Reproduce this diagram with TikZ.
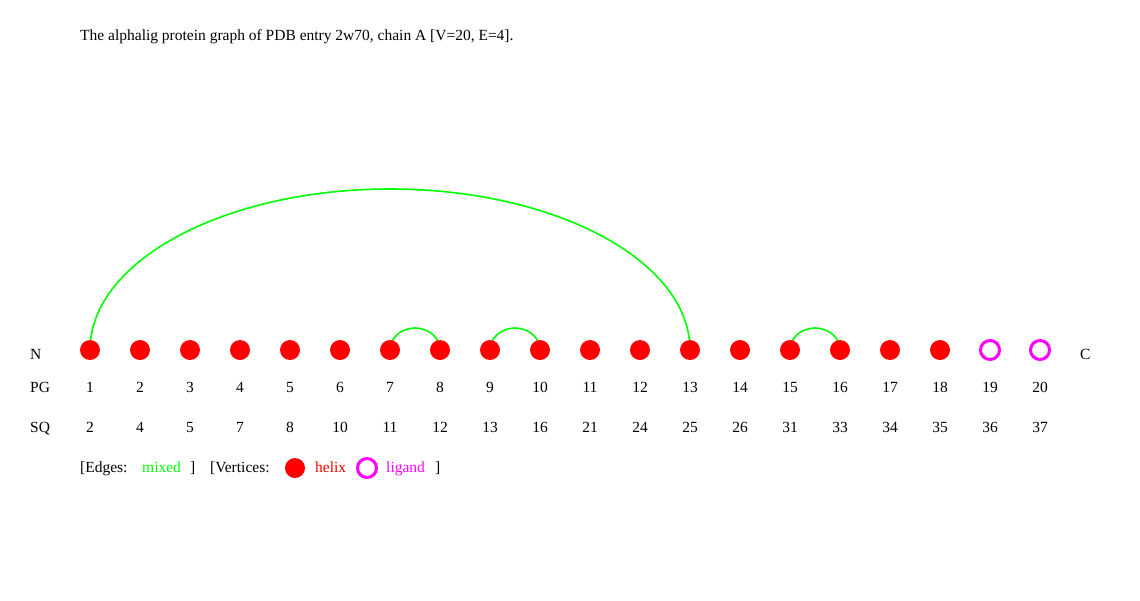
\documentclass[tikz,border=0pt]{standalone}
\usepackage{fontspec}
\setmainfont{Liberation Serif}
\definecolor{hred}{RGB}{255,0,0}
\definecolor{egreen}{RGB}{0,255,0}
\definecolor{lmag}{RGB}{255,0,255}
\begin{document}
\begin{tikzpicture}[x=1pt,y=-1pt,
  helixv/.style={circle,fill=hred,minimum size=20pt,inner sep=0pt},
  ligv/.style={circle,draw=lmag,line width=3pt,minimum size=19pt,inner sep=0pt},
  edge/.style={egreen,line width=1.6pt},
  lbl/.style={font=\fontsize{15.5}{18}\selectfont,inner sep=0pt},
  ]
\useasboundingbox (0,0) rectangle (1140,600);
\node[lbl,anchor=base west] (title) at (80,40) {The alphalig protein graph of PDB entry 2w70, chain A [V=20, E=4].};
% edges (behind vertices)
\coordinate (e1) at (90,350);
\coordinate (e13) at (690,350);
\draw[edge] (e1) arc[start angle=180,end angle=360,x radius=300,y radius=161];
\draw[edge] (390,350) arc[start angle=180,end angle=360,x radius=25,y radius=22];
\draw[edge] (490,350) arc[start angle=180,end angle=360,x radius=25,y radius=22];
\draw[edge] (790,350) arc[start angle=180,end angle=360,x radius=25,y radius=22];
% vertices
\foreach \i in {1,...,18}{
  \node[helixv] (v\i) at ({90+50*(\i-1)},350) {};
}
\foreach \i in {19,20}{
  \node[ligv] (v\i) at ({90+50*(\i-1)},350) {};
}
\node[lbl,anchor=base west] (N) at (30,359) {N};
\node[lbl,anchor=base west] (C) at (1080,359) {C};
\node[lbl,anchor=base west] (PG) at (30,392) {PG};
\node[lbl,anchor=base west] (SQ) at (30,432) {SQ};
\foreach \i/\s in {1/2,2/4,3/5,4/7,5/8,6/10,7/11,8/12,9/13,10/16,11/21,12/24,13/25,14/26,15/31,16/33,17/34,18/35,19/36,20/37}{
  \node[lbl,anchor=base] (pg\i) at ({90+50*(\i-1)},392) {\i};
  \node[lbl,anchor=base] (sq\i) at ({90+50*(\i-1)},432) {\s};
}
% legend
\node[lbl,anchor=base west] (l1) at (80,472) {[Edges:};
\node[lbl,anchor=base west,text=egreen] (l2) at (142,472) {mixed};
\node[lbl,anchor=base west] (l3) at (190,472) {]};
\node[lbl,anchor=base west] (l4) at (210,472) {[Vertices:};
\node[helixv] (l5) at (295,468) {};
\node[lbl,anchor=base west,text=hred] (l6) at (315,472) {helix};
\node[ligv] (l7) at (367,468) {};
\node[lbl,anchor=base west,text=lmag] (l8) at (386,472) {ligand};
\node[lbl,anchor=base west] (l9) at (435,472) {]};
\end{tikzpicture}
\end{document}
